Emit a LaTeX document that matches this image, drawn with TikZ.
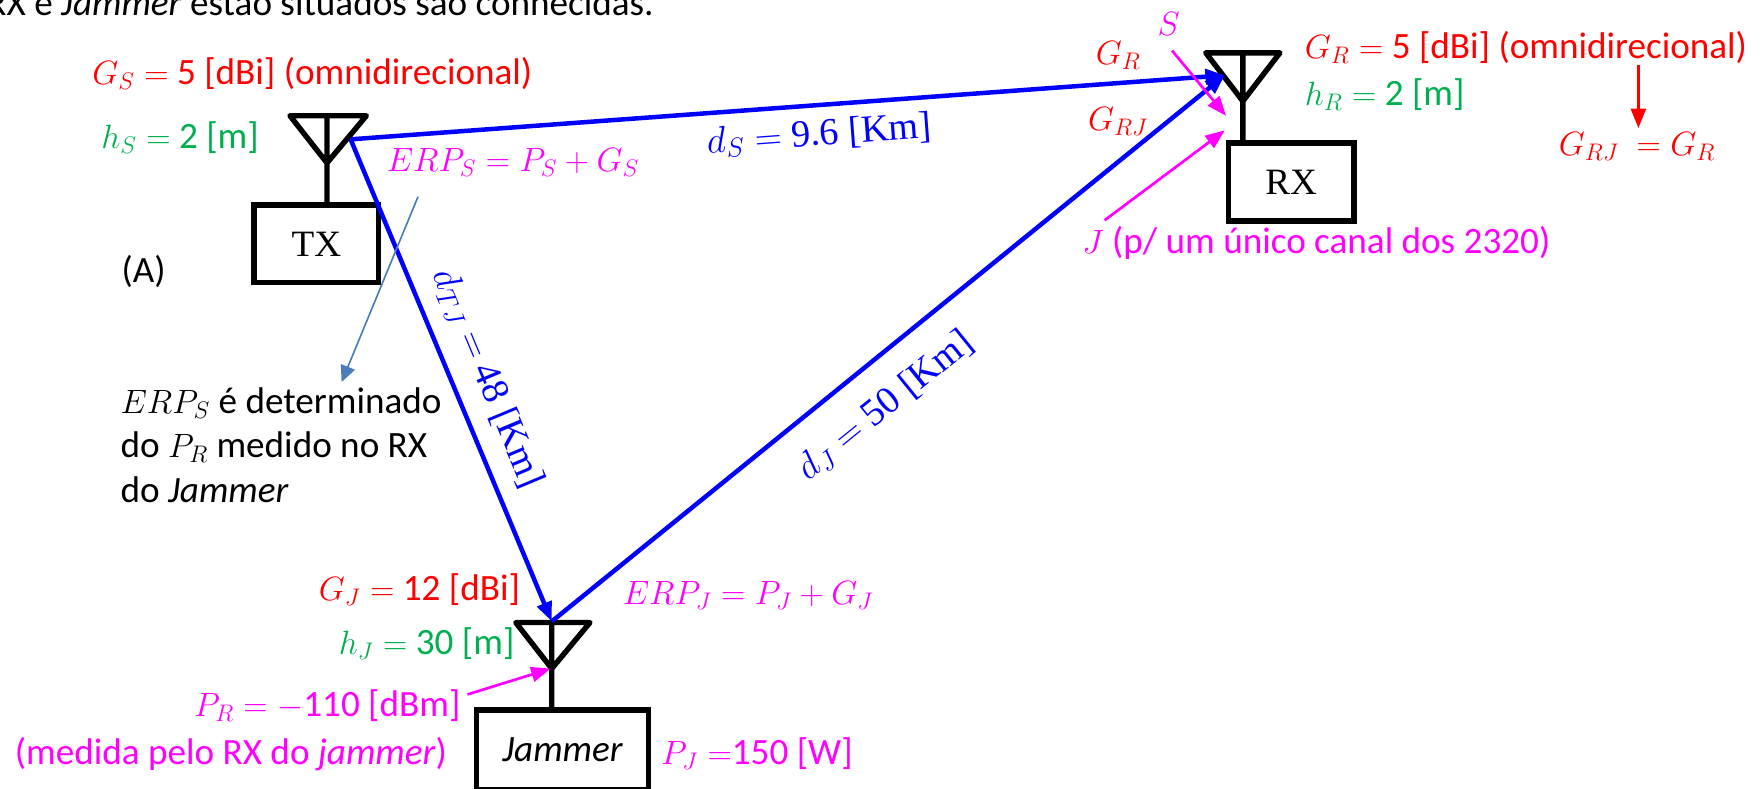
\documentclass[tikz,border=0pt]{standalone}
\usepackage{fix-cm}
\usepackage{fontspec}
\setmainfont{Liberation Serif}
\setsansfont{Carlito}
\usetikzlibrary{arrows.meta,positioning,calc}
\DeclareMathSizes{24.8}{22.5}{16}{12}
\DeclareMathSizes{25.6}{25}{18}{13}
\definecolor{sgreen}{RGB}{0,176,80}
\definecolor{notearrow}{RGB}{74,126,187}
\definecolor{pinktxt}{RGB}{255,0,255}
\tikzset{
  lbl/.style={anchor=base west,inner sep=0pt,font=\sffamily\fontsize{24.8}{29}\selectfont},
  lblr/.style={lbl,anchor=base east},
  dist/.style={inner sep=0pt,text=blue,font=\rmfamily\fontsize{25.6}{31}\selectfont},
  radio/.style={draw,line width=3.6pt,inner sep=0pt},
  ant/.style={line width=3.6pt,line join=round,line cap=round},
  path3/.style={blue,line width=3pt,-{Triangle[length=13pt,width=10pt]}},
  pinkarrow/.style={pinktxt,line width=1.8pt,-{Triangle[length=13pt,width=10pt]}}
}
\begin{document}
\begin{tikzpicture}[x=0.75pt,y=-0.75pt]
  \useasboundingbox (0,0) rectangle (1568,702);
  \clip (0,0) rectangle (1568,702);
  % antennas
  \coordinate (txl) at (258,103);
  \coordinate (txr) at (326,103);
  \coordinate (txm) at (291,103);
  \coordinate (txa) at (291,145);
  \coordinate (rxl) at (1073,47);
  \coordinate (rxr) at (1139,47);
  \coordinate (rxm) at (1106,47);
  \coordinate (rxa) at (1106,90);
  \coordinate (jl) at (459,554);
  \coordinate (jr) at (525,554);
  \coordinate (jm) at (491,554);
  \coordinate (ja) at (491,595);
  \node[radio,minimum width=83pt,minimum height=52pt,font=\rmfamily\fontsize{24.8}{29}\selectfont] (txbox) at (281.5,217) {TX};
  \node[radio,minimum width=84pt,minimum height=52pt,font=\rmfamily\fontsize{24.8}{29}\selectfont] (rxbox) at (1149,162) {RX};
  \node[radio,minimum width=115pt,minimum height=53pt,font=\sffamily\itshape\fontsize{24.8}{29}\selectfont] (jbox) at (500.5,667) {Jammer};
  \draw[ant] (txl) -- (txr) -- (txa) -- cycle (txm) -- (txm |- txbox.north);
  \draw[ant] (rxl) -- (rxr) -- (rxa) -- cycle (rxm) -- (rxm |- rxbox.north);
  \draw[ant] (jl) -- (jr) -- (ja) -- cycle (jm) -- (jm |- jbox.north);
  % links
  \coordinate (txtip) at (312,124);
  \coordinate (rxtip) at (1090,67);
  \coordinate (jtip) at (491,553);
  \draw[path3] (txtip) -- (rxtip);
  \draw[path3] (txtip) -- (jtip);
  \draw[path3] (jtip) -- (rxtip);
  \node[dist,rotate=4.2] (ds) at (729,120) {$d_S =$ 9.6 [Km]};
  \node[dist,rotate=-67.3] (dtj) at (434,337) {$d_{TJ} =$ 48 [Km]};
  \node[dist,rotate=39] (dj) at (788,361) {$d_J =$ 50 [Km]};
  % top and left texts
  \node[lblr] (top) at (582,14) {RX e \textit{Jammer} estão situados são conhecidas.};
  \node[lbl,text=red] (gs) at (82,75) {$G_S =$ 5 [dBi] (omnidirecional)};
  \node[lbl,text=sgreen] (hs) at (90,132) {$h_S =$ 2 [m]};
  \node[lbl,text=pinktxt] (erps) at (344,153) {$ERP_S = P_S + G_S$};
  \node[lbl] (a) at (108,251) {(A)};
  \node[lbl] (note1) at (107,368) {$ERP_S$ é determinado};
  \node[lbl] (note2) at (107,407) {do $P_R$ medido no RX};
  \node[lbl] (note3) at (107,447) {do \textit{Jammer}};
  \coordinate (notestart) at (372,175);
  \coordinate (noteend) at (304,340);
  \draw[notearrow,line width=1.1pt,-{Triangle[length=11pt,width=10pt]}] (notestart) -- (noteend);
  % receiver
  \node[lbl,text=pinktxt] (s) at (1030,32) {$S$};
  \node[lbl,text=red] (gr) at (975,57) {$G_R$};
  \node[lbl,text=red] (grj) at (968,116) {$G_{RJ}$};
  \node[lbl,text=red] (grv) at (1161,52) {$G_R =$ 5 [dBi] (omnidirecional)};
  \node[lbl,text=sgreen] (hr) at (1161,94) {$h_R =$ 2 [m]};
  \node[lbl,text=red] (eq) at (1387,138) {$G_{RJ}\ = G_R$};
  \node[lbl,text=pinktxt] (j) at (963,226) {$J$ (p/ um único canal dos 2320)};
  \coordinate (sfrom) at (1043,45);
  \coordinate (sto) at (1091,103);
  \coordinate (jfrom) at (983,196);
  \coordinate (jto) at (1090,116);
  \coordinate (gfrom) at (1458,58);
  \coordinate (gto) at (1458,114);
  \draw[pinkarrow] (sfrom) -- (sto);
  \draw[pinkarrow] (jfrom) -- (jto);
  \draw[red,line width=1.8pt,-{Triangle[length=13pt,width=10pt]}] (gfrom) -- (gto);
  % jammer
  \node[lblr,text=red] (gj) at (463,534) {$G_J =$ 12 [dBi]};
  \node[lblr,text=sgreen] (hj) at (458,582) {$h_J =$ 30 [m]};
  \node[lbl,text=pinktxt] (erpj) at (554,538) {$ERP_J = P_J + G_J$};
  \node[lblr,text=pinktxt] (pr) at (410,638) {$P_R = -$110 [dBm]};
  \node[lblr,text=pinktxt] (med) at (398,680) {(medida pelo RX do \textit{jammer})};
  \node[lbl,text=pinktxt] (pj) at (588,680) {$P_J =$150 [W]};
  \coordinate (pfrom) at (416,618);
  \coordinate (pto) at (490,595);
  \draw[pinkarrow] (pfrom) -- (pto);
\end{tikzpicture}
\end{document}
